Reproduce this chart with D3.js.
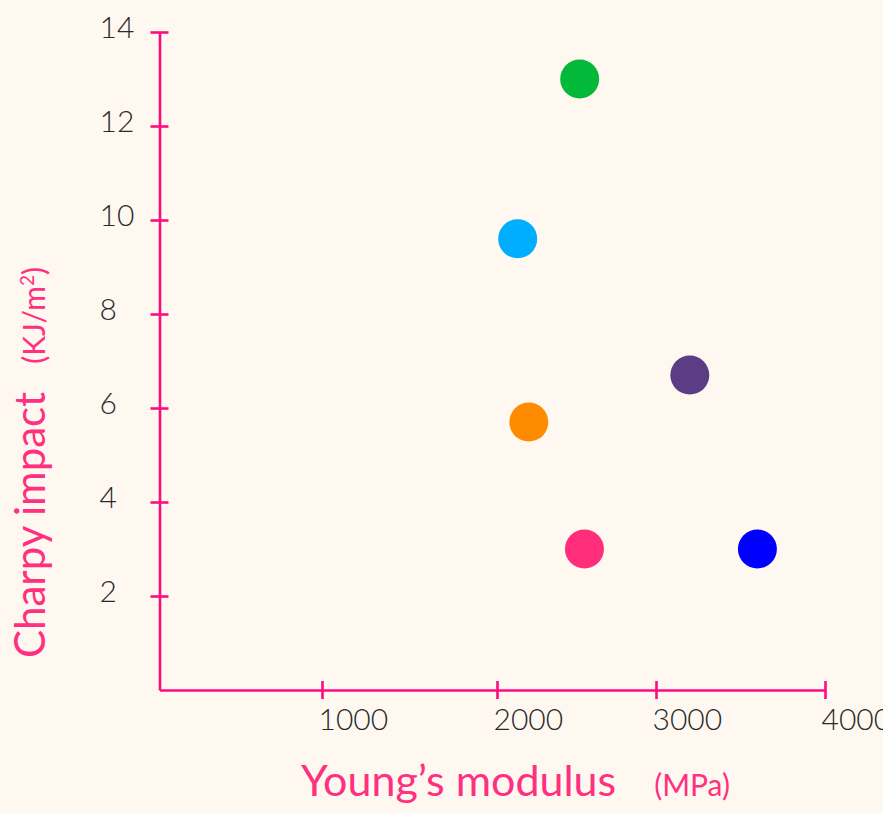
<!DOCTYPE html>
<html>
<head>
<meta charset="utf-8">
<script src="https://cdn.jsdelivr.net/npm/d3@7"></script>
<style>
  html, body { margin: 0; padding: 0; background: #fef8f1; }
  svg { display: block; }
</style>
</head>
<body>
<div id="chart"></div>
<script>
// data
const modulus = [2520, 2130, 2200, 2550, 3200, 3600]; // Young's modulus (MPa)
const impact = [13, 9.6, 5.7, 3.0, 6.7, 3.0];          // Charpy impact (KJ/m2)
const pointColors = ["#02b93a", "#00aeff", "#ff8c00", "#ff2d7a", "#5b3d85", "#0000ff"];
const xTicks = [1000, 2000, 3000, 4000];
const yTicks = [2, 4, 6, 8, 10, 12, 14];

const w = 883;
const h = 813;
const axisColor = "#ff0a80";
const titleColor = "#ff3080";
const font = "Lato, 'Open Sans', sans-serif";

const svg = d3.select("#chart")
  .append("svg")
  .attr("width", w)
  .attr("height", h);

svg.append("rect").attr("width", w).attr("height", h).attr("fill", "#fef8f1");

// the original ticks are not evenly spaced, so a piecewise scale follows them
const x = d3.scaleLinear()
  .domain([0, 1000, 2000, 3000, 4000])
  .range([159.5, 322, 497, 656, 825]);
const y = d3.scaleLinear()
  .domain([0, 14])
  .range([690, 32]);

// x axis
const gx = svg.append("g")
  .attr("transform", `translate(0,${y(0)})`)
  .call(d3.axisBottom(x).tickValues(xTicks).tickFormat(d3.format("d"))
    .tickSizeOuter(0).tickSizeInner(9));
gx.select(".domain").attr("stroke", axisColor).attr("stroke-width", 2.6);
gx.selectAll(".tick line").attr("stroke", axisColor).attr("stroke-width", 2.6)
  .attr("y1", -9).attr("y2", 9);
gx.selectAll(".tick text")
  .attr("x", -4).attr("y", 40).attr("dy", 0)
  .attr("text-anchor", "start")
  .attr("fill", "#2a2a2a")
  .style("font-family", font).style("font-weight", 300).style("font-size", "30px");

// y axis
const gy = svg.append("g")
  .attr("transform", `translate(${x(0)},0)`)
  .call(d3.axisLeft(y).tickValues(yTicks).tickSizeOuter(0).tickSizeInner(9));
gy.select(".domain").attr("stroke", axisColor).attr("stroke-width", 2.6);
gy.selectAll(".tick line").attr("stroke", axisColor).attr("stroke-width", 2.6)
  .attr("x1", -9).attr("x2", 9);
gy.selectAll(".tick text")
  .attr("x", -60).attr("y", 5).attr("dy", 0)
  .attr("text-anchor", "start")
  .attr("fill", "#2a2a2a")
  .style("font-family", font).style("font-weight", 300).style("font-size", "30px");

// points
svg.selectAll("circle.pt")
  .data(modulus)
  .enter()
  .append("circle")
  .attr("class", "pt")
  .attr("cx", d => x(d))
  .attr("cy", (d, i) => y(impact[i]))
  .attr("r", 19.5)
  .attr("fill", (d, i) => pointColors[i]);

// x title
const xt = svg.append("text")
  .attr("x", 301)
  .attr("y", 796)
  .attr("fill", titleColor)
  .style("font-family", font);
xt.append("tspan").style("font-size", "43px").text("Young\u2019s modulus");
xt.append("tspan").attr("dx", 38).style("font-size", "30px").text("(MPa)");

// y title
const yt = svg.append("text")
  .attr("transform", "translate(45,658) rotate(-90)")
  .attr("fill", titleColor)
  .style("font-family", font);
yt.append("tspan").style("font-size", "42px").text("Charpy impact");
yt.append("tspan").attr("dx", 28).style("font-size", "30px").text("(KJ/m");
yt.append("tspan").attr("dy", -11).style("font-size", "19px").text("2");
yt.append("tspan").attr("dy", 11).style("font-size", "30px").text(")");
</script>
</body>
</html>
